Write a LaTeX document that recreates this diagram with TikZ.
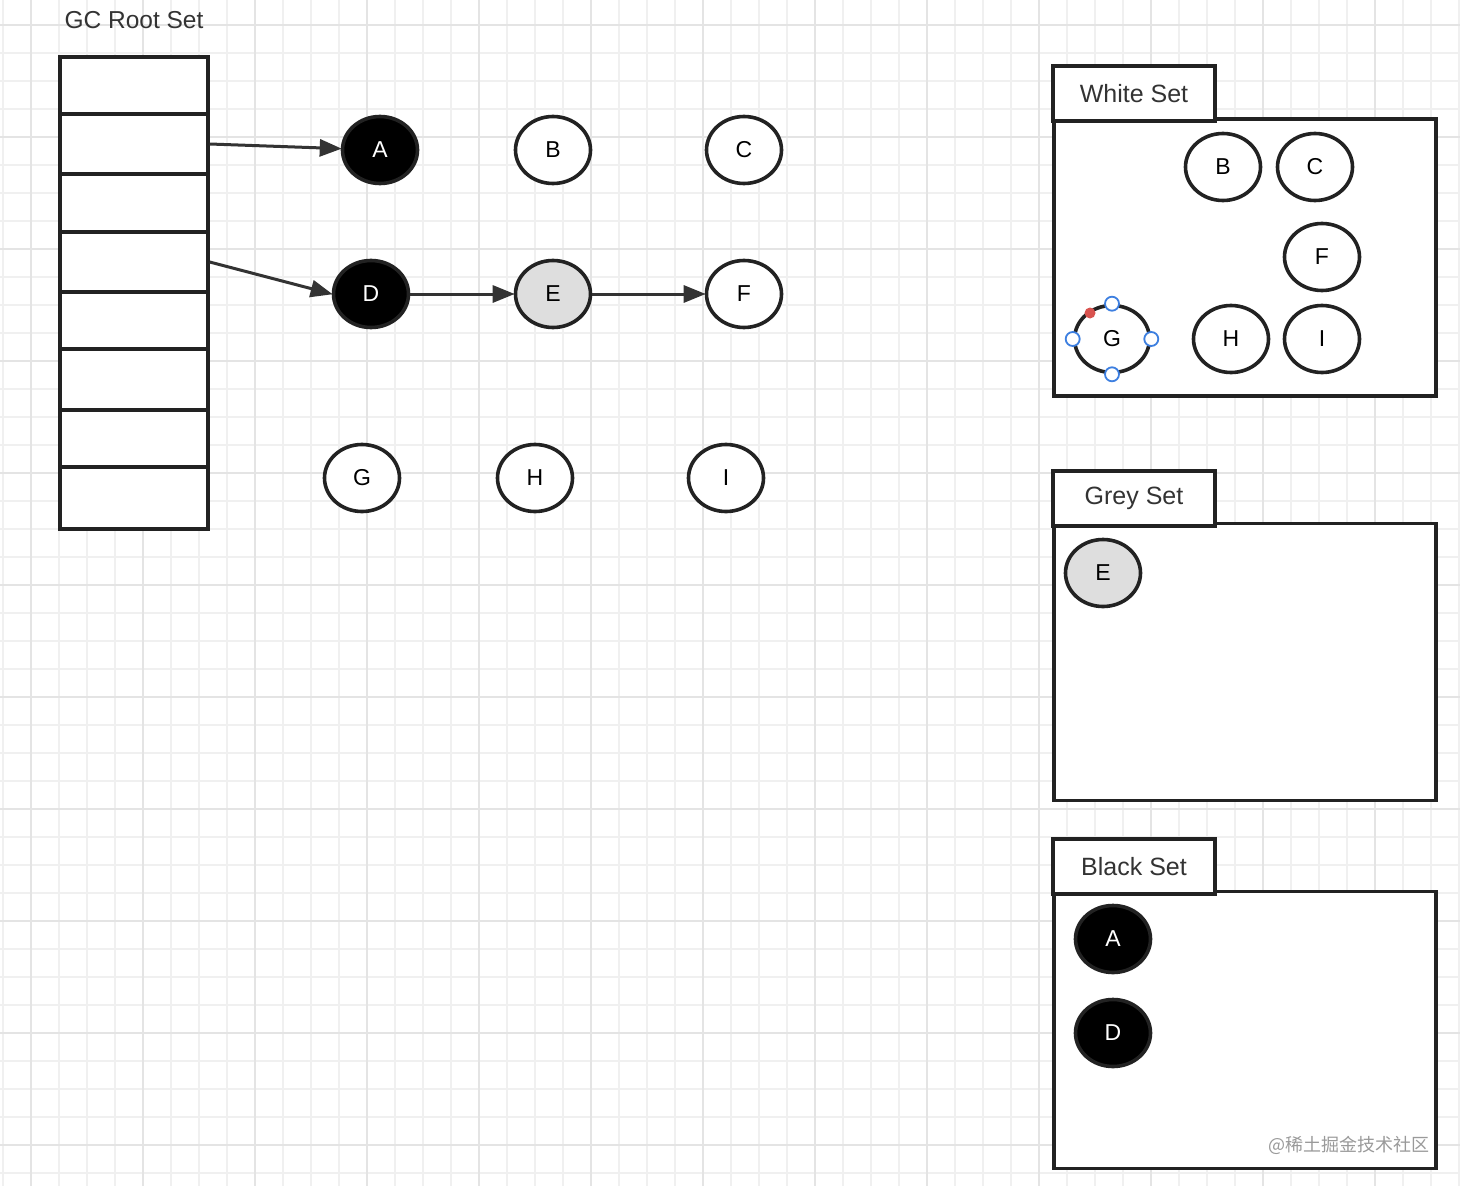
\documentclass[tikz,border=0pt]{standalone}
\usepackage{fontspec}
\setmainfont{Liberation Sans}
\newfontfamily\cjkfont{Noto Sans CJK SC}
\usetikzlibrary{shapes.geometric,arrows.meta}
\definecolor{gridminor}{HTML}{F0F0F0}
\definecolor{gridmajor}{HTML}{E4E4E4}
\definecolor{ink}{HTML}{222222}
\definecolor{edge}{HTML}{333333}
\definecolor{greyfill}{HTML}{DEDEDE}
\definecolor{handle}{HTML}{3D7FE0}
\definecolor{reddot}{HTML}{D9534F}
\definecolor{wm}{HTML}{9A9A9A}
\tikzset{
  obj/.style={ellipse, draw=ink, line width=3.6pt, minimum width=75pt, minimum height=67pt, inner sep=0pt, font=\fontsize{23}{26}\selectfont},
  whiteobj/.style={obj, fill=white, text=black},
  blackobj/.style={obj, fill=black, text=white},
  greyobj/.style={obj, fill=greyfill, text=black},
  cell/.style={rectangle, draw=ink, line width=3.4pt, fill=white, minimum width=148pt, inner sep=0pt},
  tabbox/.style={rectangle, draw=ink, line width=3.4pt, fill=white, minimum width=162pt, minimum height=55pt, inner sep=0pt, font=\fontsize{25}{29}\selectfont, text=black!80},
  setbox/.style={rectangle, draw=ink, line width=3.4pt, fill=white, minimum width=382pt, minimum height=277pt, inner sep=0pt},
  link/.style={draw=edge, line width=3pt, -{Triangle[length=22pt,width=17pt]}, shorten >=-1pt},
  selhandle/.style={circle, draw=handle, fill=white, line width=1.8pt, minimum size=14pt, inner sep=0pt},
}
\begin{document}
\begin{tikzpicture}[x=1pt,y=-1pt]
\useasboundingbox (0,0) rectangle (1460,1186);
\fill[white] (0,0) rectangle (1460,1186);
% grid
\foreach \gx in {3,31,...,1459} {\draw[gridminor, line width=1.2pt] (\gx,0) -- (\gx,1186);}
\foreach \gy in {-3,25,...,1186} {\draw[gridminor, line width=1.2pt] (0,\gy) -- (1460,\gy);}
\foreach \gx in {31,143,...,1459} {\draw[gridmajor, line width=1.8pt] (\gx,0) -- (\gx,1186);}
\foreach \gy in {25,137,...,1186} {\draw[gridmajor, line width=1.8pt] (0,\gy) -- (1460,\gy);}

% GC root set
\node[font=\fontsize{24.5}{28}\selectfont, text=black!80] (title) at (134,20) {GC Root Set};
\node[cell, minimum height=57pt] (r1) at (134,85.5) {};
\node[cell, minimum height=60pt] (r2) at (134,144) {};
\node[cell, minimum height=58pt] (r3) at (134,203) {};
\node[cell, minimum height=60pt] (r4) at (134,262) {};
\node[cell, minimum height=57pt] (r5) at (134,320.5) {};
\node[cell, minimum height=61pt] (r6) at (134,379.5) {};
\node[cell, minimum height=57pt] (r7) at (134,438.5) {};
\node[cell, minimum height=62pt] (r8) at (134,498) {};

% objects
\node[blackobj] (A) at (380,150) {A};
\node[whiteobj] (B) at (553,150) {B};
\node[whiteobj] (C) at (744,150) {C};
\node[blackobj] (D) at (371,294) {D};
\node[greyobj]  (E) at (553,294) {E};
\node[whiteobj] (F) at (744,294) {F};
\node[whiteobj] (G) at (362,478) {G};
\node[whiteobj] (H) at (535,478) {H};
\node[whiteobj] (I) at (726,478) {I};

\draw[link] (r2.east) -- (A);
\draw[link] (r4.east) -- (D.west);
\draw[link] (D) -- (E);
\draw[link] (E) -- (F);

% White set
\node[setbox] (wbox) at (1245,257.5) {};
\node[tabbox] (wtab) at (1134,93.5) {White Set};
\node[whiteobj] (wB) at (1223,167) {B};
\node[whiteobj] (wC) at (1315,167) {C};
\node[whiteobj] (wF) at (1322,257) {F};
\node[whiteobj] (wG) at (1112,339) {G};
\node[whiteobj] (wH) at (1231,339) {H};
\node[whiteobj] (wI) at (1322,339) {I};
\node[selhandle] (hn) at (wG.north) {};
\node[selhandle] (hs) at (wG.south) {};
\node[selhandle] (hw) at (wG.west) {};
\node[selhandle] (he) at (wG.east) {};
\node[circle, fill=reddot, minimum size=11pt, inner sep=0pt] (hr) at (1090,313) {};

% Grey set
\node[setbox] (gbox) at (1245,662) {};
\node[tabbox] (gtab) at (1134,498.5) {Grey Set};
\node[greyobj] (gE) at (1103,573) {E};

% Black set
\node[setbox] (bbox) at (1245,1030) {};
\node[tabbox] (btab) at (1134,866.5) {Black Set};
\node[blackobj] (bA) at (1113,939) {A};
\node[blackobj] (bD) at (1113,1033) {D};

% watermark
\node[font=\cjkfont\fontsize{18}{20}\selectfont, text=wm, inner sep=0pt] (wmark) at (1349,1145) {@稀土掘金技术社区};
\end{tikzpicture}
\end{document}
